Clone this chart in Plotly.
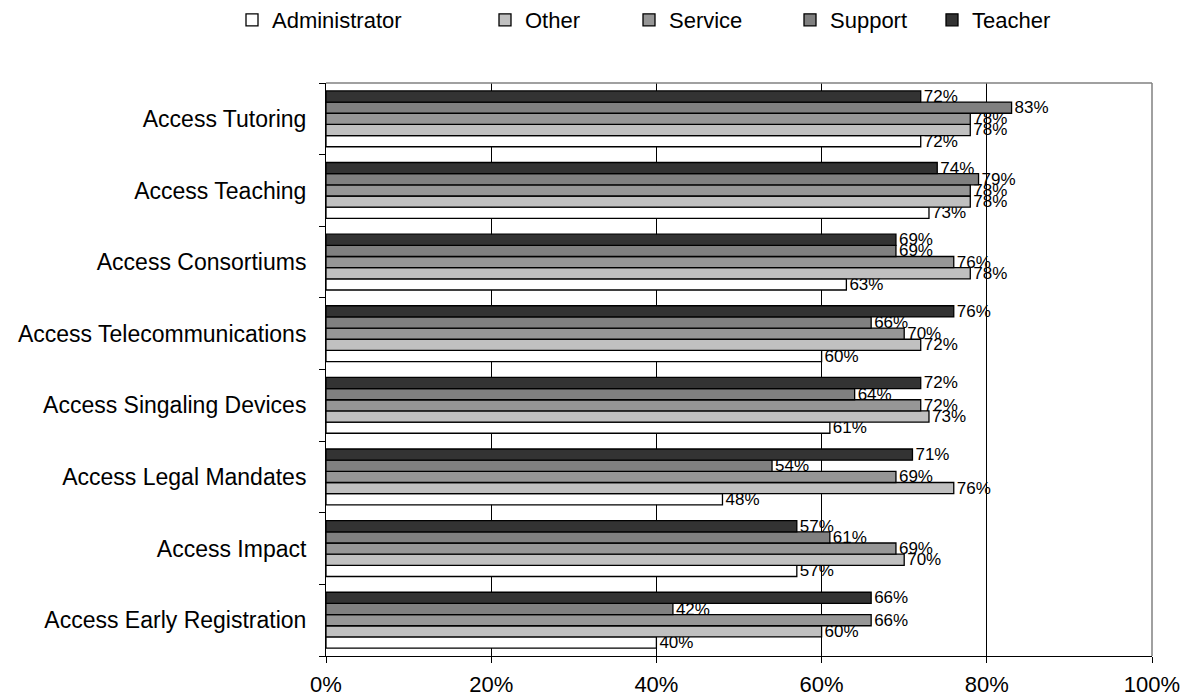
import plotly.graph_objects as go

categories = [
    "Access Tutoring",
    "Access Teaching",
    "Access Consortiums",
    "Access Telecommunications",
    "Access Singaling Devices",
    "Access Legal Mandates",
    "Access Impact",
    "Access Early Registration",
]

series_names = ["Administrator", "Other", "Service", "Support", "Teacher"]

administrator = [72, 73, 63, 60, 61, 48, 57, 40]
other = [78, 78, 78, 72, 73, 76, 70, 60]
service = [78, 78, 76, 70, 72, 69, 69, 66]
support = [83, 79, 69, 66, 64, 54, 61, 42]
teacher = [72, 74, 69, 76, 72, 71, 57, 66]

series_values = [administrator, other, service, support, teacher]
colors = ["#FFFFFF", "#C0C0C0", "#969696", "#808080", "#333333"]
legend_x_px = [232, 485, 629, 790, 932]

x_ticks = [0, 20, 40, 60, 80, 100]
x_tick_labels = ["0%", "20%", "40%", "60%", "80%", "100%"]

FONT = "Liberation Sans, Arial, sans-serif"
W, H = 1193, 700

fig = go.Figure()
legend_ids = ["legend", "legend2", "legend3", "legend4", "legend5"]
for i, (name, vals, col) in enumerate(zip(series_names, series_values, colors)):
    fig.add_trace(go.Bar(
        name=name,
        y=categories,
        x=vals,
        orientation="h",
        marker=dict(color=col, line=dict(color="#000000", width=1.3)),
        text=[f"{v}%" for v in vals],
        textposition="outside",
        constraintext="none",
        cliponaxis=False,
        textfont=dict(family=FONT, size=17, color="#000000"),
        legend=legend_ids[i],
        hoverinfo="skip",
    ))

layout_legends = {}
for i, lid in enumerate(legend_ids):
    layout_legends[lid] = dict(
        x=legend_x_px[i] / W, xref="container", xanchor="left",
        y=1 - 20 / H, yref="container", yanchor="middle",
        orientation="h",
        font=dict(family=FONT, size=22, color="#000000"),
        bgcolor="rgba(0,0,0,0)",
        borderwidth=0,
        itemclick=False,
    )

fig.update_layout(
    width=W, height=H,
    margin=dict(l=326, r=41, t=83, b=44, pad=0, autoexpand=False),
    paper_bgcolor="#FFFFFF",
    plot_bgcolor="#FFFFFF",
    barmode="group",
    bargap=0.22,
    bargroupgap=0,
    showlegend=True,
    font=dict(family=FONT, size=22, color="#000000"),
    **layout_legends,
)

fig.update_xaxes(
    range=[0, 100],
    tickvals=x_ticks,
    ticktext=x_tick_labels,
    showgrid=True, gridcolor="#000000", gridwidth=1,
    showline=True, linecolor="#000000", linewidth=1,
    ticks="outside", ticklen=6, tickcolor="#000000",
    zeroline=False,
    tickfont=dict(family=FONT, size=22, color="#000000"),
    ticklabelstandoff=3,
    automargin=False,
)
fig.update_yaxes(
    categoryorder="array",
    categoryarray=categories[::-1],
    tickson="boundaries",
    ticks="outside", ticklen=6, tickcolor="#000000",
    showline=True, linecolor="#000000", linewidth=1,
    showgrid=False,
    tickfont=dict(family=FONT, size=23, color="#000000"),
    ticklabelstandoff=14,
    automargin=False,
)

# gray plot-area border (top and right)
fig.add_shape(type="line", xref="paper", yref="paper", x0=0, x1=1, y0=1, y1=1,
              line=dict(color="#808080", width=1.5))
fig.add_shape(type="line", xref="paper", yref="paper", x0=1, x1=1, y0=0, y1=1,
              line=dict(color="#808080", width=1.5))

fig.write_html("out.html")
